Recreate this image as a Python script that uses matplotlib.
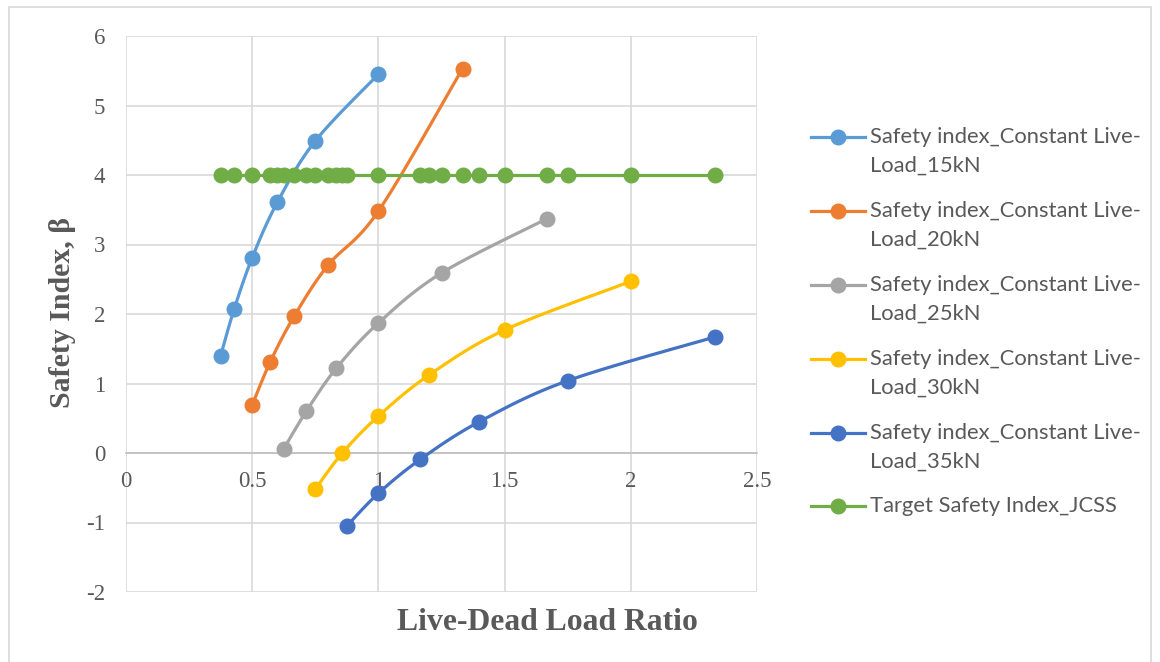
import numpy as np
import matplotlib
matplotlib.use("Agg")
import matplotlib.pyplot as plt
from matplotlib.lines import Line2D
from matplotlib.patches import Rectangle

###data###
x_15 = [0.375, 0.4286, 0.5, 0.6, 0.75, 1.0]
y_15 = [1.40, 2.07, 2.81, 3.61, 4.49, 5.45]
x_20 = [0.5, 0.5714, 0.6667, 0.8, 1.0, 1.3333]
y_20 = [0.69, 1.31, 1.97, 2.70, 3.48, 5.53]
x_25 = [0.625, 0.7143, 0.8333, 1.0, 1.25, 1.6667]
y_25 = [0.06, 0.60, 1.22, 1.87, 2.59, 3.37]
x_30 = [0.75, 0.8571, 1.0, 1.2, 1.5, 2.0]
y_30 = [-0.52, 0.0, 0.53, 1.12, 1.77, 2.47]
x_35 = [0.875, 1.0, 1.1667, 1.4, 1.75, 2.3333]
y_35 = [-1.05, -0.58, -0.09, 0.45, 1.04, 1.67]
x_target = [0.375, 0.4286, 0.5, 0.5714, 0.6, 0.625, 0.6667, 0.7143, 0.75, 0.8,
            0.8333, 0.8571, 0.875, 1.0, 1.1667, 1.2, 1.25, 1.3333, 1.4, 1.5,
            1.6667, 1.75, 2.0, 2.3333]
y_target = [4.0, 4.0, 4.0, 4.0, 4.0, 4.0, 4.0, 4.0, 4.0, 4.0, 4.0, 4.0,
            4.0, 4.0, 4.0, 4.0, 4.0, 4.0, 4.0, 4.0, 4.0, 4.0, 4.0, 4.0]

labels = ["Safety index_Constant Live-\nLoad_15kN",
          "Safety index_Constant Live-\nLoad_20kN",
          "Safety index_Constant Live-\nLoad_25kN",
          "Safety index_Constant Live-\nLoad_30kN",
          "Safety index_Constant Live-\nLoad_35kN",
          "Target Safety Index_JCSS"]
colors = ["#5B9BD5", "#ED7D31", "#A5A5A5", "#FFC000", "#4472C4", "#70AD47"]
x_ticks = [0, 0.5, 1, 1.5, 2, 2.5]
y_ticks = [-2, -1, 0, 1, 2, 3, 4, 5, 6]

###functions###
def smooth(x, y, n=24):
    # catmull-rom curve through the points, like excel's smoothed line
    p = np.column_stack([x, y]).astype(float)
    p = np.vstack([p[0], p, p[-1]])
    out = []
    t = np.linspace(0, 1, n)[:, None]
    for i in range(1, len(p) - 2):
        p0, p1, p2, p3 = p[i - 1], p[i], p[i + 1], p[i + 2]
        c = 0.5 * ((2 * p1) + (-p0 + p2) * t + (2 * p0 - 5 * p1 + 4 * p2 - p3) * t ** 2
                   + (-p0 + 3 * p1 - 3 * p2 + p3) * t ** 3)
        out.append(c)
    c = np.vstack(out)
    return c[:, 0], c[:, 1]

###plot figure###
W, H = 1160, 662
fig = plt.figure(figsize=(W / 100, H / 100), dpi=100)
fig.add_artist(Rectangle((9 / W, -0.01), 1142 / W, 1 - 7 / H + 0.01, transform=fig.transFigure,
                         fill=False, edgecolor="#D9D9D9", linewidth=1.2))
ax = fig.add_axes([126 / W, 1 - 592 / H, (757 - 126) / W, (592 - 36) / H])

series = [(x_15, y_15), (x_20, y_20), (x_25, y_25), (x_30, y_30), (x_35, y_35), (x_target, y_target)]
for (xs, ys), col in zip(series, colors):
    sx, sy = smooth(xs, ys)
    ax.plot(sx, sy, color=col, lw=2.3, solid_capstyle="round", zorder=3, clip_on=False)
    ax.plot(xs, ys, "o", color=col, ms=10.5, zorder=4, clip_on=False)

ax.set_xlim(0, 2.5)
ax.set_ylim(-2, 6)
ax.set_xticks(x_ticks)
ax.set_yticks(y_ticks)
ax.set_xticklabels(["0", "0.5", "1", "1.5", "2", "2.5"])
ax.set_yticklabels([str(v) for v in y_ticks])
ax.grid(True, color="#D9D9D9", lw=1.2, zorder=0)
for s in ["top", "right", "left"]:
    ax.spines[s].set_visible(False)
ax.spines["bottom"].set_position(("data", 0))
ax.spines["bottom"].set_color("#BFBFBF")
ax.spines["bottom"].set_linewidth(1.2)
ax.tick_params(length=0, labelsize=16.5, labelcolor="#595959")
ax.tick_params(axis="x", pad=13)
ax.tick_params(axis="y", pad=15)
for lab in ax.get_xticklabels() + ax.get_yticklabels():
    lab.set_family("Liberation Serif")

fig.text(547 / W, 1 - 622 / H, "Live-Dead Load Ratio", ha="center", va="center",
         family="Liberation Serif", weight="bold", fontsize=22.8, color="#595959")
fig.text(62 / W, 1 - 312 / H, "Safety Index, \u03b2", ha="center", va="center", rotation=90,
         family="Liberation Serif", weight="bold", fontsize=21.5, color="#595959")

# legend drawn by hand so the marker sits on the first text line
row_y = [137, 211, 285, 359, 433, 506]
for yy, lab, col in zip(row_y, labels, colors):
    fy = 1 - yy / H
    fig.add_artist(Line2D([811 / W, 865 / W], [fy, fy], color=col, lw=2.3, transform=fig.transFigure))
    fig.add_artist(Line2D([838 / W], [fy], marker="o", ms=10.5, color=col, transform=fig.transFigure))
    for k, line in enumerate(lab.split("\n")):
        fig.text(870 / W, 1 - (yy + 29 * k) / H, line, ha="left", va="center",
                 family="Lato", fontsize=15.8, color="#595959")

fig.savefig("out.png", dpi=100)
